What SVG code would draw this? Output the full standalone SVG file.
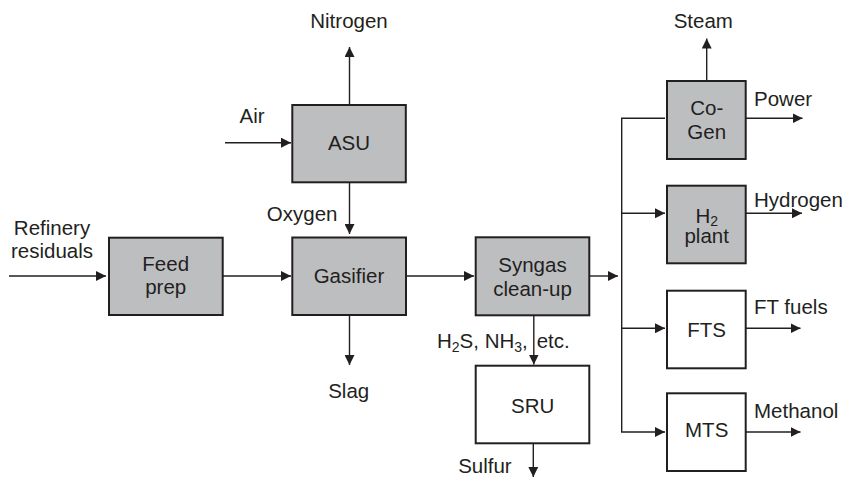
<svg xmlns="http://www.w3.org/2000/svg" width="848" height="478" viewBox="0 0 848 478">
<style>
.box{stroke:#231f20;stroke-width:2}
.g{fill:#bdbec0}
.w{fill:#ffffff}
.t{font-family:"Liberation Sans",Arial,sans-serif;font-size:20.5px;fill:#231f20}
.m{text-anchor:middle}
.ln{stroke:#231f20;stroke-width:1.4;fill:none}
</style>
<defs>
<marker id="ah" viewBox="0 0 10 10" refX="10" refY="5" markerWidth="10" markerHeight="10" markerUnits="userSpaceOnUse" orient="auto">
<path d="M0,0 L10,5 L0,10 Z" fill="#231f20"/>
</marker>
</defs>
<rect width="848" height="478" fill="#ffffff"/>
<g id="connectors" class="ln">
<line x1="349.5" y1="105" x2="349.5" y2="47" marker-end="url(#ah)"/>
<line x1="225" y1="142.7" x2="291" y2="142.7" marker-end="url(#ah)"/>
<line x1="349.5" y1="182" x2="349.5" y2="234" marker-end="url(#ah)"/>
<line x1="9" y1="276" x2="106" y2="276" marker-end="url(#ah)"/>
<line x1="223" y1="276" x2="291" y2="276" marker-end="url(#ah)"/>
<line x1="406" y1="276" x2="474" y2="276" marker-end="url(#ah)"/>
<line x1="349.5" y1="315" x2="349.5" y2="365" marker-end="url(#ah)"/>
<line x1="589.5" y1="276" x2="618" y2="276" marker-end="url(#ah)"/>
<line x1="533.8" y1="315.5" x2="533.8" y2="364.5" marker-end="url(#ah)"/>
<line x1="533.3" y1="443.5" x2="533.3" y2="477" marker-end="url(#ah)"/>
<polyline points="665,118.3 621.7,118.3 621.7,432 665,432" marker-end="url(#ah)"/>
<line x1="621.7" y1="213.3" x2="665" y2="213.3" marker-end="url(#ah)"/>
<line x1="621.7" y1="328.3" x2="665" y2="328.3" marker-end="url(#ah)"/>
<line x1="706.7" y1="81" x2="706.7" y2="38.5" marker-end="url(#ah)"/>
<line x1="746" y1="118.3" x2="802.5" y2="118.3" marker-end="url(#ah)"/>
<line x1="746" y1="213.3" x2="802" y2="213.3" marker-end="url(#ah)"/>
<line x1="746" y1="328.3" x2="800.5" y2="328.3" marker-end="url(#ah)"/>
<line x1="746" y1="432" x2="800.5" y2="432" marker-end="url(#ah)"/>
</g>
<g id="labels" class="t">
<text x="349" y="28" class="m">Nitrogen</text>
<text x="252" y="122.7" class="m">Air</text>
<text x="337.5" y="220.7" text-anchor="end">Oxygen</text>
<text x="52" y="235" class="m">Refinery</text>
<text x="52" y="258.3" class="m">residuals</text>
<text x="348.7" y="398.3" class="m">Slag</text>
<text x="437" y="348.3">H<tspan font-size="14" dy="4">2</tspan><tspan dy="-4">S, NH</tspan><tspan font-size="14" dy="4">3</tspan><tspan dy="-4">,</tspan></text>
<text x="536.7" y="348.3">etc.</text>
<text x="511.7" y="472.7" text-anchor="end">Sulfur</text>
<text x="703.3" y="28.3" class="m">Steam</text>
<text x="754" y="106">Power</text>
<text x="754" y="206.7">Hydrogen</text>
<text x="754" y="314.3">FT fuels</text>
<text x="754" y="418.3">Methanol</text>
</g>
<g id="asu"><rect class="box g" x="292.3" y="105" width="113.5" height="77.3"/><text class="t m" x="349" y="149.5">ASU</text></g>
<g id="feedprep"><rect class="box g" x="109" y="237.7" width="113.7" height="77.3"/><text class="t m" x="165.7" y="271">Feed</text><text class="t m" x="165.7" y="293.5">prep</text></g>
<g id="gasifier"><rect class="box g" x="292.3" y="237.5" width="113.7" height="77.5"/><text class="t m" x="349" y="282.7">Gasifier</text></g>
<g id="syngas"><rect class="box g" x="475.7" y="237.3" width="113.6" height="78"/><text class="t m" x="532.5" y="271.7">Syngas</text><text class="t m" x="532.5" y="296">clean-up</text></g>
<g id="sru"><rect class="box w" x="475.7" y="365.7" width="113.6" height="77.6"/><text class="t m" x="532.7" y="412.7">SRU</text></g>
<g id="cogen"><rect class="box g" x="667" y="81" width="78.7" height="78"/><text class="t m" x="706.7" y="115">Co-</text><text class="t m" x="706.7" y="139.3">Gen</text></g>
<g id="h2plant"><rect class="box g" x="667" y="185.7" width="78.7" height="77.6"/><text class="t m" x="706.7" y="222.5">H<tspan font-size="14" dy="3">2</tspan></text><text class="t m" x="706.7" y="243.3">plant</text></g>
<g id="fts"><rect class="box w" x="667" y="290.7" width="78.7" height="77.6"/><text class="t m" x="706.7" y="336.7">FTS</text></g>
<g id="mts"><rect class="box w" x="667" y="393.3" width="78.7" height="77.7"/><text class="t m" x="706.7" y="437.3">MTS</text></g>
</svg>
